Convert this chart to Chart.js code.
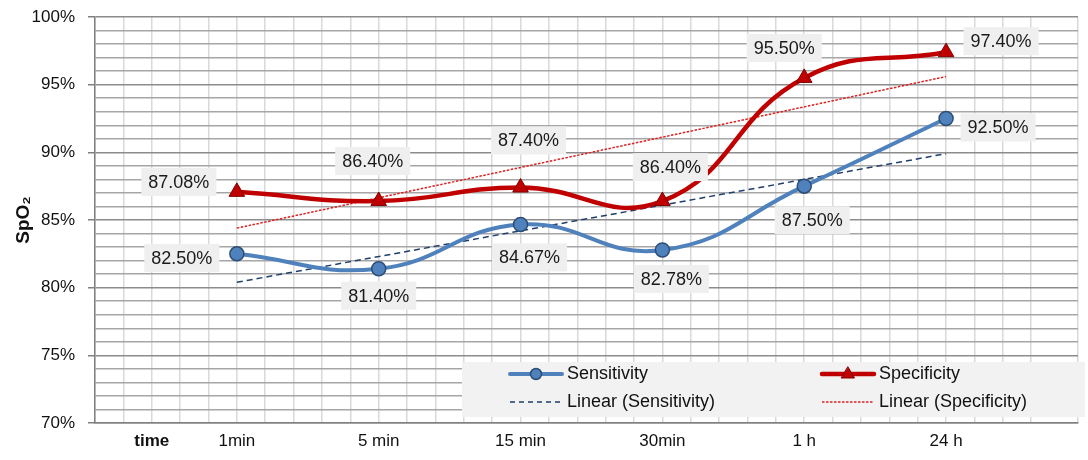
<!doctype html>
<html lang="en">
<head>
<meta charset="utf-8">
<title>SpO2 chart</title>
<script src="https://cdn.jsdelivr.net/npm/chart.js"></script>
<style>
  html, body { margin: 0; padding: 0; background: #fff; }
  #wrap { width: 1088px; height: 460px; }
</style>
</head>
<body>
<div id="wrap"><canvas id="myChart"></canvas></div>
<script>
const timeLabels = ['1min', '5 min', '15 min', '30min', '1 h', '24 h'];
const sensitivity = [82.50, 81.40, 84.67, 82.78, 87.50, 92.50];
const specificity = [87.08, 86.40, 87.40, 86.40, 95.50, 97.40];
// trend line ends (at 1min and 24 h)
const sensTrend = [80.4, 89.9];
const specTrend = [84.4, 95.6];
const yTicks = [70, 75, 80, 85, 90, 95, 100];

const FONT = "'Liberation Sans', Arial, sans-serif";
const BLUE = '#4f81bd';
const RED = '#c00000';

// label box offsets from each point (dx, dy)
const sensOffsets = [[-55, 4], [0, 27], [9, 33], [9, 29], [8, 34], [52, 9]];
const specOffsets = [[-58, -10], [-6, -40], [8, -47], [8, -34], [-20, -30], [55, -11]];

function toPoints(arr) {
  return arr.map((v, i) => ({ x: i + 1, y: v }));
}

const valueLabels = {
  id: 'valueLabels',
  afterDatasetsDraw(chart) {
    const ctx = chart.ctx;
    ctx.save();
    ctx.font = '18px ' + FONT;
    ctx.textAlign = 'center';
    ctx.textBaseline = 'middle';
    [[0, sensitivity, sensOffsets], [1, specificity, specOffsets]].forEach(([di, vals, offs]) => {
      const meta = chart.getDatasetMeta(di);
      meta.data.forEach((pt, i) => {
        const txt = vals[i].toFixed(2) + '%';
        const cx = pt.x + offs[i][0];
        const cy = pt.y + offs[i][1];
        const w = ctx.measureText(txt).width + 14;
        ctx.fillStyle = '#efefef';
        ctx.fillRect(cx - w / 2, cy - 14, w, 28);
        ctx.fillStyle = '#1a1a1a';
        ctx.fillText(txt, cx, cy + 1);
      });
    });
    ctx.restore();
  }
};

const boxLegend = {
  id: 'boxLegend',
  afterDraw(chart) {
    const ctx = chart.ctx;
    ctx.save();
    ctx.fillStyle = '#f2f2f2';
    ctx.fillRect(462, 362, 623, 55);
    ctx.font = '18px ' + FONT;
    ctx.textBaseline = 'middle';
    ctx.textAlign = 'left';
    const items = [
      { x: 510, y: 374, text: 'Sensitivity', color: BLUE, w: 4, dash: [], mark: 'circle' },
      { x: 822, y: 374, text: 'Specificity', color: RED, w: 4.5, dash: [], mark: 'triangle' },
      { x: 510, y: 402, text: 'Linear (Sensitivity)', color: '#1f3f6a', w: 1.5, dash: [5, 4], mark: null },
      { x: 822, y: 402, text: 'Linear (Specificity)', color: '#e02020', w: 1.5, dash: [2.5, 1.5], mark: null }
    ];
    items.forEach(it => {
      ctx.strokeStyle = it.color;
      ctx.lineWidth = it.w;
      ctx.lineCap = 'round';
      ctx.setLineDash(it.dash);
      if (it.dash.length) ctx.lineCap = 'butt';
      ctx.beginPath();
      ctx.moveTo(it.x, it.y);
      ctx.lineTo(it.x + 52, it.y);
      ctx.stroke();
      ctx.setLineDash([]);
      const mx = it.x + 26;
      if (it.mark === 'circle') {
        ctx.fillStyle = BLUE;
        ctx.strokeStyle = '#2c4d75';
        ctx.lineWidth = 1.5;
        ctx.beginPath();
        ctx.arc(mx, it.y, 5.5, 0, Math.PI * 2);
        ctx.fill();
        ctx.stroke();
      } else if (it.mark === 'triangle') {
        ctx.fillStyle = RED;
        ctx.strokeStyle = '#7f0000';
        ctx.lineWidth = 1;
        ctx.beginPath();
        ctx.moveTo(mx, it.y - 7);
        ctx.lineTo(mx + 6.5, it.y + 4);
        ctx.lineTo(mx - 6.5, it.y + 4);
        ctx.closePath();
        ctx.fill();
        ctx.stroke();
      }
      ctx.fillStyle = '#111';
      ctx.fillText(it.text, it.x + 57, it.y);
    });
    ctx.restore();
  }
};

const near = (a, b) => Math.abs(a - b) < 1e-6;

const config = {
  type: 'line',
  data: {
    datasets: [
      {
        label: 'Sensitivity',
        data: toPoints(sensitivity),
        borderColor: BLUE,
        borderWidth: 4,
        tension: 0.45,
        pointStyle: 'circle',
        pointRadius: 7,
        pointBackgroundColor: BLUE,
        pointBorderColor: '#2c4d75',
        pointBorderWidth: 1.5,
        order: 1
      },
      {
        label: 'Specificity',
        data: toPoints(specificity),
        borderColor: RED,
        borderWidth: 4.5,
        tension: 0.45,
        pointStyle: 'triangle',
        pointRadius: 9,
        pointBackgroundColor: RED,
        pointBorderColor: '#7f0000',
        pointBorderWidth: 1,
        order: 0
      },
      {
        label: 'Linear (Sensitivity)',
        data: [{ x: 1, y: sensTrend[0] }, { x: 6, y: sensTrend[1] }],
        borderColor: '#1f3f6a',
        borderWidth: 1.5,
        borderDash: [6, 4],
        pointRadius: 0,
        order: 3
      },
      {
        label: 'Linear (Specificity)',
        data: [{ x: 1, y: specTrend[0] }, { x: 6, y: specTrend[1] }],
        borderColor: '#e02020',
        borderWidth: 1.5,
        borderDash: [2.5, 1.5],
        pointRadius: 0,
        order: 2
      }
    ]
  },
  options: {
    responsive: true,
    maintainAspectRatio: false,
    animation: false,
    layout: { padding: { top: 17, right: 2, left: 0, bottom: 0 } },
    plugins: {
      legend: { display: false },
      tooltip: { enabled: false }
    },
    scales: {
      x: {
        type: 'linear',
        min: 0,
        max: 6.93,
        afterFit(s) { s.height = 37; },
        border: { color: '#808080', width: 1.5 },
        grid: {
          color: '#d9d9d9',
          lineWidth: 1.5,
          drawTicks: false
        },
        ticks: {
          stepSize: 0.2,
          autoSkip: false,
          maxRotation: 0,
          padding: 8,
          color: '#111',
          font: ctx => ({
            family: FONT,
            size: 17,
            weight: ctx.tick && near(ctx.tick.value, 0.4) ? 'bold' : 'normal'
          }),
          callback(v) {
            if (near(v, 0.4)) return 'time';
            const r = Math.round(v);
            if (near(v, r) && r >= 1 && r <= timeLabels.length) return timeLabels[r - 1];
            return '';
          }
        }
      },
      y: {
        min: yTicks[0],
        max: yTicks[yTicks.length - 1],
        afterFit(s) {
          s.width = 95;
          s.paddingTop = 0;
          s.paddingBottom = 0;
        },
        border: { color: '#808080', width: 1.5 },
        grid: {
          color: ctx => (ctx.tick && ctx.tick.value % 5 === 0 ? '#8c8c8c' : '#a6a6a6'),
          lineWidth: 1.5,
          tickLength: 7,
          tickColor: ctx => (ctx.tick && ctx.tick.value % 5 === 0 ? '#808080' : 'rgba(0,0,0,0)')
        },
        title: {
          display: true,
          text: 'SpO\u2082',
          color: '#111',
          font: { family: FONT, size: 19, weight: 'bold' },
          padding: { top: 12, bottom: 0 }
        },
        ticks: {
          stepSize: 1,
          autoSkip: false,
          padding: 13,
          color: '#111',
          font: { family: FONT, size: 17 },
          callback(v) { return yTicks.includes(v) ? v + '%' : ''; }
        }
      }
    }
  },
  plugins: [valueLabels, boxLegend]
};

new Chart(document.getElementById('myChart'), config);
</script>
</body>
</html>
